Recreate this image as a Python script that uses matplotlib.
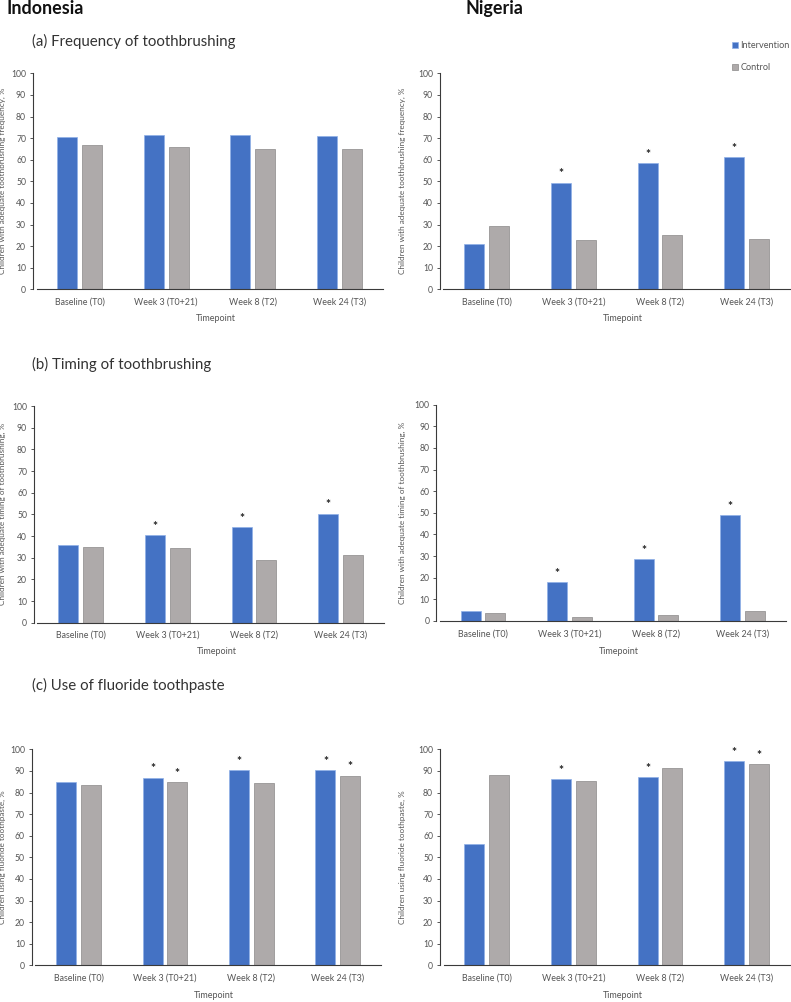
import matplotlib
matplotlib.use('Agg')
import matplotlib.pyplot as plt
from matplotlib.patches import Patch
import numpy as np

plt.rcParams['font.family'] = ['Lato', 'DejaVu Sans']

timepoints = ['Baseline (T0)', 'Week 3 (T0+21)', 'Week 8 (T2)', 'Week 24 (T3)']

# (a) frequency of toothbrushing
idn_freq_int = [70.5, 71.6, 71.6, 71.1]
idn_freq_ctl = [67.0, 65.9, 64.8, 65.1]
nga_freq_int = [21.0, 49.4, 58.3, 61.3]
nga_freq_ctl = [29.3, 22.8, 25.0, 23.3]
# (b) timing of toothbrushing
idn_time_int = [36.0, 40.6, 44.0, 50.3]
idn_time_ctl = [34.9, 34.5, 28.8, 31.1]
nga_time_int = [4.6, 17.9, 28.7, 48.8]
nga_time_ctl = [3.9, 1.8, 2.9, 4.5]
# (c) use of fluoride toothpaste
idn_fluo_int = [84.9, 86.9, 90.4, 90.4]
idn_fluo_ctl = [83.6, 84.9, 84.3, 87.8]
nga_fluo_int = [56.0, 86.1, 87.2, 94.6]
nga_fluo_ctl = [88.1, 85.3, 91.2, 93.1]

# significance stars (1 = *)
idn_freq_sig = ([0, 0, 0, 0], [0, 0, 0, 0])
nga_freq_sig = ([0, 1, 1, 1], [0, 0, 0, 0])
idn_time_sig = ([0, 1, 1, 1], [0, 0, 0, 0])
nga_time_sig = ([0, 1, 1, 1], [0, 0, 0, 0])
idn_fluo_sig = ([0, 1, 1, 1], [0, 1, 0, 1])
nga_fluo_sig = ([0, 1, 1, 1], [0, 0, 0, 1])

ylabels = ['Children with adequate toothbrushing frequency, %',
           'Children with adequate timing of toothbrushing, %',
           'Children using fluoride toothpaste, %']

BLUE = '#4472C4'
GREY = '#AEAAAA'
W, H = 791, 1002

fig = plt.figure(figsize=(W / 100, H / 100), dpi=100)


def add_ax(left, right, y0, y100):
    return fig.add_axes([left / W, 1 - y0 / H, (right - left) / W, (y0 - y100) / H])


def draw(ax, vint, vctl, sig, ylabel, label_x, time_y):
    x = np.arange(len(timepoints))
    w = 0.231
    off = 0.143
    ax.bar(x - off, vint, w, color=BLUE, edgecolor='#8FB0E8', linewidth=0.5)
    ax.bar(x + off, vctl, w, color=GREY, edgecolor='#8A8888', linewidth=0.5)
    for i in range(len(x)):
        if sig[0][i]:
            ax.text(x[i] - off, vint[i] + 2.4, '*', ha='center', va='baseline', fontsize=8.5,
                    fontweight='bold', color='#222222')
        if sig[1][i]:
            ax.text(x[i] + off, vctl[i] + 2.4, '*', ha='center', va='baseline', fontsize=8.5,
                    fontweight='bold', color='#222222')
    ax.set_xlim(-0.5, 3.5)
    ax.set_ylim(0, 100)
    ax.set_yticks(range(0, 101, 10))
    ax.set_xticks(x)
    ax.set_xticklabels(timepoints)
    for s in ['top', 'right']:
        ax.spines[s].set_visible(False)
    ax.spines['left'].set_position(('outward', 2.5))
    for s in ['left', 'bottom']:
        ax.spines[s].set_color('#3A3A3A')
        ax.spines[s].set_linewidth(0.8)
    ax.tick_params(axis='y', length=2.5, width=0.6, pad=2.5, labelsize=6.2, labelcolor='#555555', color='#3A3A3A')
    ax.tick_params(axis='x', length=0, pad=6, labelsize=6.4, labelcolor='#555555')
    ax.set_ylabel(ylabel, fontsize=5.9, color='#555555')
    bb = ax.get_position()
    ax.yaxis.set_label_coords((label_x / W - bb.x0) / bb.width, 0.5)
    fig.text((bb.x0 + bb.width / 2) + 6 / W, 1 - time_y / H, 'Timepoint', ha='center', va='center',
             fontsize=6.5, color='#555555')


axA = add_ax(36.5, 382.5, 289.3, 73.3)
axB = add_ax(443.3, 790, 289.3, 73.3)
axC = add_ax(37.5, 383.8, 622.7, 406)
axD = add_ax(439.8, 785.7, 621, 404.7)
axE = add_ax(35.3, 381, 965.3, 749.3)
axF = add_ax(443.5, 790, 965.3, 749.3)

draw(axA, idn_freq_int, idn_freq_ctl, idn_freq_sig, ylabels[0], 6.5, 318.5)
draw(axB, nga_freq_int, nga_freq_ctl, nga_freq_sig, ylabels[0], 406, 318.5)
draw(axC, idn_time_int, idn_time_ctl, idn_time_sig, ylabels[1], 6.5, 652)
draw(axD, nga_time_int, nga_time_ctl, nga_time_sig, ylabels[1], 406, 651)
draw(axE, idn_fluo_int, idn_fluo_ctl, idn_fluo_sig, ylabels[2], 6.5, 996)
draw(axF, nga_fluo_int, nga_fluo_ctl, nga_fluo_sig, ylabels[2], 406, 996)

# headings
fig.text(7 / W, 1 - 14.3 / H, 'Indonesia', fontsize=12.9, fontweight='bold', va='baseline', color='#111111')
fig.text(465.7 / W, 1 - 14.3 / H, 'Nigeria', fontsize=12.9, fontweight='bold', va='baseline', color='#111111')
fig.text(31.7 / W, 1 - 45.7 / H, '(a) Frequency of toothbrushing', fontsize=10.8, va='baseline', color='#333333')
fig.text(31.7 / W, 1 - 369 / H, '(b) Timing of toothbrushing', fontsize=10.8, va='baseline', color='#333333')
fig.text(31.7 / W, 1 - 690 / H, '(c) Use of fluoride toothpaste', fontsize=10.8, va='baseline', color='#333333')

handles = [Patch(facecolor=BLUE, edgecolor='#8FB0E8', linewidth=0.5, label='Intervention'),
           Patch(facecolor=GREY, edgecolor='#8A8888', linewidth=0.5, label='Control')]
leg = fig.legend(handles=handles, loc='upper left', bbox_to_anchor=(732 / W, 1 - 41 / H), frameon=False,
                 fontsize=6.6, handlelength=0.6, handleheight=0.6, handletextpad=0.3,
                 labelspacing=1.45, borderpad=0, borderaxespad=0)
for t in leg.get_texts():
    t.set_color('#555555')

fig.savefig('out.png', dpi=100)
